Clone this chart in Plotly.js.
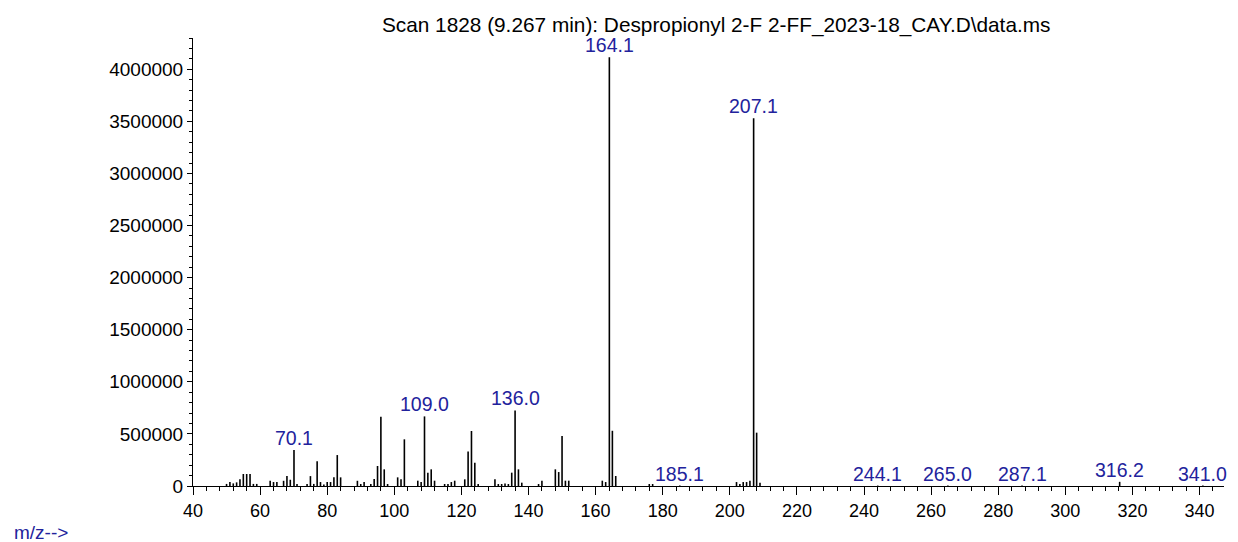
<!DOCTYPE html>
<html>
<head>
<meta charset="utf-8">
<script src="https://cdn.plot.ly/plotly-3.0.1.min.js"></script>
<style>html,body{margin:0;padding:0;background:#fff;}#chart{width:1238px;height:542px;}</style>
</head>
<body>
<div id="chart"></div>
<script>
// m/z values of the peaks
const mz = [50,51,52,53,54,55,56,57,58,59,63,64,65,67,68,69,70.1,71,74,75,76,77,78,79,80,81,82,83,84,
  89,90,91,93,94,95,96,97,98,101,102,103,107,108,109.0,110,111,112,115,116,117,118,121,122,123,124,125,
  130,131,132,133,134,135,136.0,137,138,143,144,148,149,150,151,152,162,163,164.1,165,166,176,177,185.1,
  202,203,204,205,206,207.1,208,209,244.1,265.0,287.1,316.2,341.0];
// abundance
const abundance = [20000,38000,25000,35000,65000,115000,115000,115000,20000,20000,50000,38000,38000,50000,95000,60000,345000,20000,20000,95000,20000,237000,38000,15000,38000,38000,83000,297000,83000,
  50000,19000,38000,19000,67000,192000,665000,160000,19000,83000,64000,448000,51000,38000,668000,128000,160000,51000,19000,19000,38000,51000,64000,330000,528000,224000,19000,
  64000,19000,19000,25000,19000,128000,725000,160000,32000,19000,51000,160000,134000,480000,51000,51000,51000,38000,4115000,530000,96000,19000,19000,4000,
  38000,19000,38000,38000,51000,3530000,512000,32000,4000,4000,4000,40000,4000];
// labelled peaks
const peakLabels = ["70.1","109.0","136.0","164.1","185.1","207.1","244.1","265.0","287.1","316.2","341.0"];
const titleText = "Scan 1828 (9.267 min): Despropionyl 2-F 2-FF_2023-18_CAY.D\\data.ms";
const xAxisText = "m/z-->";

const xs = [], ys = [];
for (let i = 0; i < mz.length; i++) { xs.push(mz[i], mz[i], null); ys.push(0, abundance[i], null); }

const blue = "#22229c";
const font = "Liberation Sans, Arial, sans-serif";
const annotations = peakLabels.map(l => {
  const v = parseFloat(l);
  const idx = mz.findIndex(m => Math.abs(m - v) < 1e-6);
  return {x: v, y: abundance[idx], xref: 'x', yref: 'y', text: l, showarrow: false,
    yanchor: 'bottom', xanchor: 'center', yshift: -1, font: {family: font, size: 19.5, color: blue}};
});
annotations.push({x: -0.1754, y: -0.1027, xref: 'paper', yref: 'paper', xanchor: 'left', yanchor: 'middle',
  text: xAxisText, showarrow: false, font: {family: font, size: 19, color: blue}});

const trace = {x: xs, y: ys, type: 'scatter', mode: 'lines', line: {color: '#000', width: 1.6}, hoverinfo: 'skip'};

const layout = {
  width: 1238, height: 542,
  margin: {l: 193, r: 14, t: 38, b: 56},
  paper_bgcolor: '#fff', plot_bgcolor: '#fff',
  showlegend: false,
  title: {text: titleText, xref: 'container', x: 0.5785, xanchor: 'center', y: 0.955, yanchor: 'middle',
    font: {family: font, size: 20.8, color: '#000'}},
  xaxis: {range: [40, 347.3], showgrid: false, zeroline: false, showline: true, linecolor: '#000', linewidth: 1,
    ticks: 'outside', tickcolor: '#000', ticklen: 8, tickwidth: 1, dtick: 20, tick0: 0,
    minor: {dtick: 4, ticks: 'outside', ticklen: 4, tickcolor: '#000', showgrid: false},
    tickfont: {family: font, size: 18, color: '#000'}},
  yaxis: {range: [0, 4300000], showgrid: false, zeroline: false, showline: true, linecolor: '#000', linewidth: 1,
    ticks: 'outside', tickcolor: '#000', ticklen: 5, tickwidth: 1, dtick: 500000, tick0: 0,
    tickformat: 'd', separatethousands: false,
    minor: {dtick: 100000, ticks: 'outside', ticklen: 3, tickcolor: '#000', showgrid: false},
    tickfont: {family: font, size: 19, color: '#000'}},
  annotations: annotations
};
Plotly.newPlot('chart', [trace], layout, {displayModeBar: false, staticPlot: true});
</script>
</body>
</html>
